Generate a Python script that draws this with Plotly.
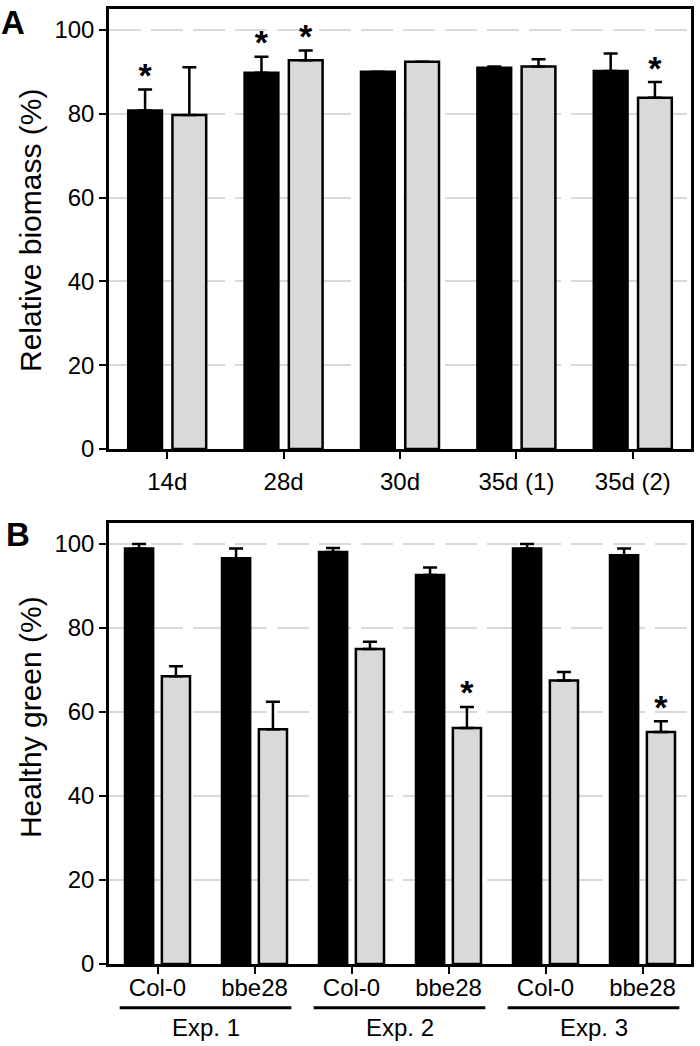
import plotly.graph_objects as go

# ---------------- data ----------------
a_categories = ["14d", "28d", "30d", "35d (1)", "35d (2)"]
a_black = [80.8, 89.8, 90.0, 91.0, 90.2]
a_black_err = [5.0, 3.8, None, 0.3, 4.2]
a_black_sig = [True, True, False, False, False]
a_gray = [79.7, 92.8, 92.4, 91.3, 83.8]
a_gray_err = [11.4, 2.3, None, 1.7, 3.8]
a_gray_sig = [False, True, False, False, True]

b_genotypes = ["Col-0", "bbe28", "Col-0", "bbe28", "Col-0", "bbe28"]
b_experiments = ["Exp. 1", "Exp. 2", "Exp. 3"]
b_black = [98.9, 96.6, 98.1, 92.6, 98.9, 97.3]
b_black_err = [1.1, 2.3, 0.9, 1.8, 1.1, 1.6]
b_black_sig = [False, False, False, False, False, False]
b_gray = [68.5, 55.9, 75.0, 56.2, 67.5, 55.2]
b_gray_err = [2.4, 6.5, 1.7, 5.0, 2.0, 2.6]
b_gray_sig = [False, False, False, True, False, True]

# ---------------- style ----------------
FONT = "Liberation Sans, Arial, sans-serif"
BLACK = "#000000"
GRAY = "#d9d9d9"
BAR_W = 0.29
OFF_BLACK = -0.335
OFF_GRAY = 0.045
LINE_W = 2.5
STAR_OFFSET = 2.6

fig = go.Figure()


def add_panel(vals_k, err_k, sig_k, vals_g, err_g, sig_g, xa, ya):
    xs = list(range(len(vals_k)))
    for vals, errs, sigs, fill, off in (
        (vals_k, err_k, sig_k, BLACK, OFF_BLACK),
        (vals_g, err_g, sig_g, GRAY, OFF_GRAY),
    ):
        fig.add_trace(go.Bar(
            x=xs, y=vals, width=BAR_W, offset=off,
            marker=dict(color=fill, line=dict(color=BLACK, width=LINE_W)),
            error_y=dict(type="data", array=errs,
                         arrayminus=[0 if e is not None else None for e in errs],
                         symmetric=False, color=BLACK, thickness=2.5, width=7),
            xaxis=xa, yaxis=ya, showlegend=False, hoverinfo="skip",
        ))
        sx, sy = [], []
        for i, (v, e, s) in enumerate(zip(vals, errs, sigs)):
            if s:
                sx.append(i + off + BAR_W / 2)
                sy.append(v + (e or 0) + STAR_OFFSET)
        if sx:
            fig.add_trace(go.Scatter(
                x=sx, y=sy, mode="text", text=["<b>*</b>"] * len(sx),
                textposition="middle center",
                textfont=dict(family=FONT, size=34, color=BLACK),
                xaxis=xa, yaxis=ya, showlegend=False, hoverinfo="skip",
                cliponaxis=False,
            ))


add_panel(a_black, a_black_err, a_black_sig, a_gray, a_gray_err, a_gray_sig, "x", "y")
add_panel(b_black, b_black_err, b_black_sig, b_gray, b_gray_err, b_gray_sig, "x2", "y2")

yaxis_common = dict(
    range=[0, 105], tickvals=[0, 20, 40, 60, 80, 100],
    showline=True, linecolor=BLACK, linewidth=LINE_W, mirror=True,
    ticks="outside", ticklen=7, tickwidth=2, tickcolor=BLACK,
    showgrid=True, gridcolor="#d9d9d9", gridwidth=2, griddash="32px,10px",
    zeroline=False, tickfont=dict(family=FONT, size=24, color=BLACK),
    fixedrange=True,
)
xaxis_common = dict(
    showline=True, linecolor=BLACK, linewidth=LINE_W, mirror=True,
    ticks="outside", ticklen=7, tickwidth=2, tickcolor=BLACK,
    showgrid=False, zeroline=False,
    tickfont=dict(family=FONT, size=24, color=BLACK), fixedrange=True,
)

fig.update_layout(
    width=700, height=1046,
    margin=dict(l=109, r=6, t=7, b=82),
    plot_bgcolor="white", paper_bgcolor="white",
    barmode="overlay",
    font=dict(family=FONT, color=BLACK),
    xaxis=dict(domain=[0, 1], range=[-0.5, len(a_categories) - 0.5],
               tickvals=list(range(len(a_categories))), ticktext=a_categories,
               anchor="y", ticklabelstandoff=2, **xaxis_common),
    yaxis=dict(domain=[0.5392, 1], anchor="x", **yaxis_common),
    xaxis2=dict(domain=[0, 1], range=[-0.5, len(b_genotypes) - 0.5],
                tickvals=list(range(len(b_genotypes))), ticktext=b_genotypes,
                anchor="y2", ticklabelstandoff=-7, **xaxis_common),
    yaxis2=dict(domain=[0, 0.4619], anchor="x2", **yaxis_common),
)

annotations = [
    dict(text="Relative biomass (%)", xref="paper", yref="paper", x=-0.135, y=0.768,
         textangle=-90, showarrow=False, xanchor="center", yanchor="middle",
         font=dict(family=FONT, size=30, color=BLACK)),
    dict(text="Healthy green (%)", xref="paper", yref="paper", x=-0.135, y=0.259,
         textangle=-90, showarrow=False, xanchor="center", yanchor="middle",
         font=dict(family=FONT, size=30, color=BLACK)),
    dict(text="<b>A</b>", xref="paper", yref="paper", x=-0.189, y=0.9854,
         showarrow=False, xanchor="left", yanchor="middle",
         font=dict(family=FONT, size=33, color=BLACK)),
    dict(text="<b>B</b>", xref="paper", yref="paper", x=-0.181, y=0.4493,
         showarrow=False, xanchor="left", yanchor="middle",
         font=dict(family=FONT, size=33, color=BLACK)),
]
shapes = []
for k, name in enumerate(b_experiments):
    i0, i1 = 2 * k, 2 * k + 1
    shapes.append(dict(type="line", xref="x2", yref="paper",
                       x0=i0 - 0.39, x1=i1 + 0.38, y0=-0.0457, y1=-0.0457,
                       line=dict(color=BLACK, width=3)))
    annotations.append(dict(text=name, xref="x2", yref="paper", x=(i0 + i1) / 2,
                            y=-0.0669, showarrow=False, xanchor="center",
                            yanchor="middle",
                            font=dict(family=FONT, size=24, color=BLACK)))

fig.update_layout(annotations=annotations, shapes=shapes)
fig.write_html("out.html", config={"displayModeBar": False},
               post_script="document.body.style.margin='0';document.body.style.overflow='hidden';")
